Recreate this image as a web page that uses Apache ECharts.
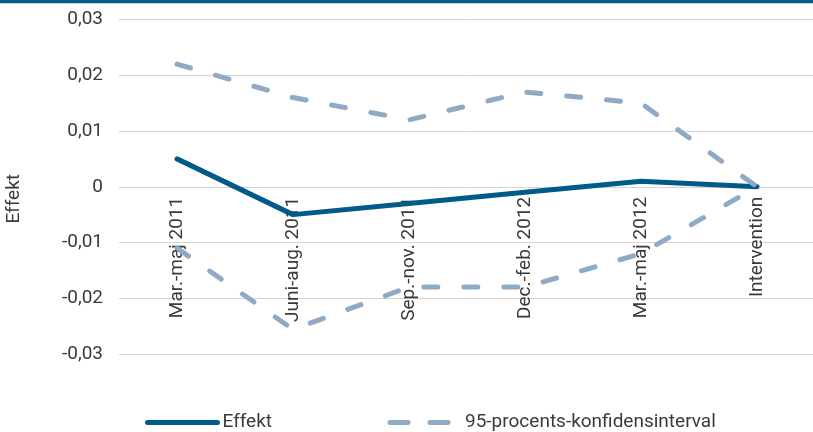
<!DOCTYPE html>
<html>
<head>
<meta charset="utf-8">
<script src="https://cdn.jsdelivr.net/npm/echarts@6/dist/echarts.min.js"></script>
<style>
  html, body { margin: 0; padding: 0; background: #ffffff; }
  #chart { width: 813px; height: 432px; }
</style>
</head>
<body>
<div id="chart"></div>
<script>
// Periods on the category axis
const categories = ['Mar.-maj 2011', 'Juni-aug. 2011', 'Sep.-nov. 2011', 'Dec.-feb. 2012', 'Mar.-maj 2012', 'Intervention'];
// Estimated effect per period
const effekt = [0.005, -0.005, -0.003, -0.001, 0.001, 0];
// 95% confidence bounds
const upperBound = [0.022, 0.016, 0.012, 0.017, 0.015, 0];
const lowerBound = [-0.011, -0.0256, -0.018, -0.018, -0.012, 0];

const FONT = 'Roboto';
const TEXT = '#3a3a3a';
const DARK = '#005a8a';
const LIGHT = '#8faac4';
const GRIDLINE = '#d4d4d4';
const DASH = [14, 26];

const GRID_TOP = 19.5;
const GRID_BOTTOM = 78;
const Y_MIN = -0.03, Y_MAX = 0.03;

const chart = echarts.init(document.getElementById('chart'), null, { renderer: 'canvas' });

function fmt(v) {
  if (Math.abs(v) < 1e-9) return '0';
  return v.toFixed(2).replace('.', ',');
}

// the category axis sits on the zero line of the value axis
const plotHeight = 432 - GRID_TOP - GRID_BOTTOM;
const zeroOffset = -plotHeight * (0 - Y_MIN) / (Y_MAX - Y_MIN);

const legendCommon = {
  top: 413,
  padding: 0,
  itemWidth: 70, itemHeight: 14, itemGap: 10,
  textStyle: { fontFamily: FONT, fontSize: 19, color: TEXT },
  itemStyle: { opacity: 0 }
};

chart.setOption({
  animation: false,
  backgroundColor: '#ffffff',
  textStyle: { fontFamily: FONT },
  graphic: [{
    type: 'rect',
    left: 0, top: 0,
    shape: { width: 813, height: 3.3 },
    style: { fill: '#005a8a' }
  }],
  grid: { left: 119, right: -2, top: GRID_TOP, bottom: GRID_BOTTOM, containLabel: false, outerBoundsMode: 'none' },
  legend: [
    Object.assign({ left: 145, data: ['Effekt'], lineStyle: { width: 5, cap: 'round' } }, legendCommon),
    Object.assign({ left: 387.5, data: ['95-procents-konfidensinterval'], lineStyle: { width: 5, cap: 'round', type: [18, 22] } }, legendCommon)
  ],
  xAxis: {
    type: 'category',
    data: categories,
    boundaryGap: true,
    position: 'bottom',
    offset: zeroOffset,
    axisLine: { show: false, onZero: false },
    axisTick: { show: false },
    axisLabel: { rotate: 90, margin: 10, fontFamily: FONT, fontSize: 19, color: TEXT, interval: 0 },
    splitLine: { show: false }
  },
  yAxis: {
    type: 'value',
    min: Y_MIN, max: Y_MAX, interval: 0.01,
    name: 'Effekt',
    nameLocation: 'middle',
    nameGap: 95,
    nameRotate: 90,
    nameTextStyle: { fontFamily: FONT, fontSize: 19, color: TEXT, padding: [0, 24, 0, 0] },
    axisLine: { show: false },
    axisTick: { show: false },
    axisLabel: { margin: 16, fontFamily: FONT, fontSize: 19, color: TEXT, formatter: fmt },
    splitLine: { lineStyle: { color: GRIDLINE, width: 1 } }
  },
  series: [{
    name: 'Effekt',
    type: 'line',
    data: effekt,
    symbol: 'none',
    z: 3,
    color: DARK,
    lineStyle: { color: DARK, width: 5, cap: 'round', join: 'round' }
  }, {
    name: '95-procents-konfidensinterval',
    type: 'line',
    data: upperBound,
    symbol: 'none',
    color: LIGHT,
    lineStyle: { color: LIGHT, width: 5, type: DASH, cap: 'round', join: 'round' }
  }, {
    name: '95-procents-konfidensinterval',
    type: 'line',
    data: lowerBound,
    symbol: 'none',
    color: LIGHT,
    lineStyle: { color: LIGHT, width: 5, type: DASH, cap: 'round', join: 'round' }
  }]
});
</script>
</body>
</html>
